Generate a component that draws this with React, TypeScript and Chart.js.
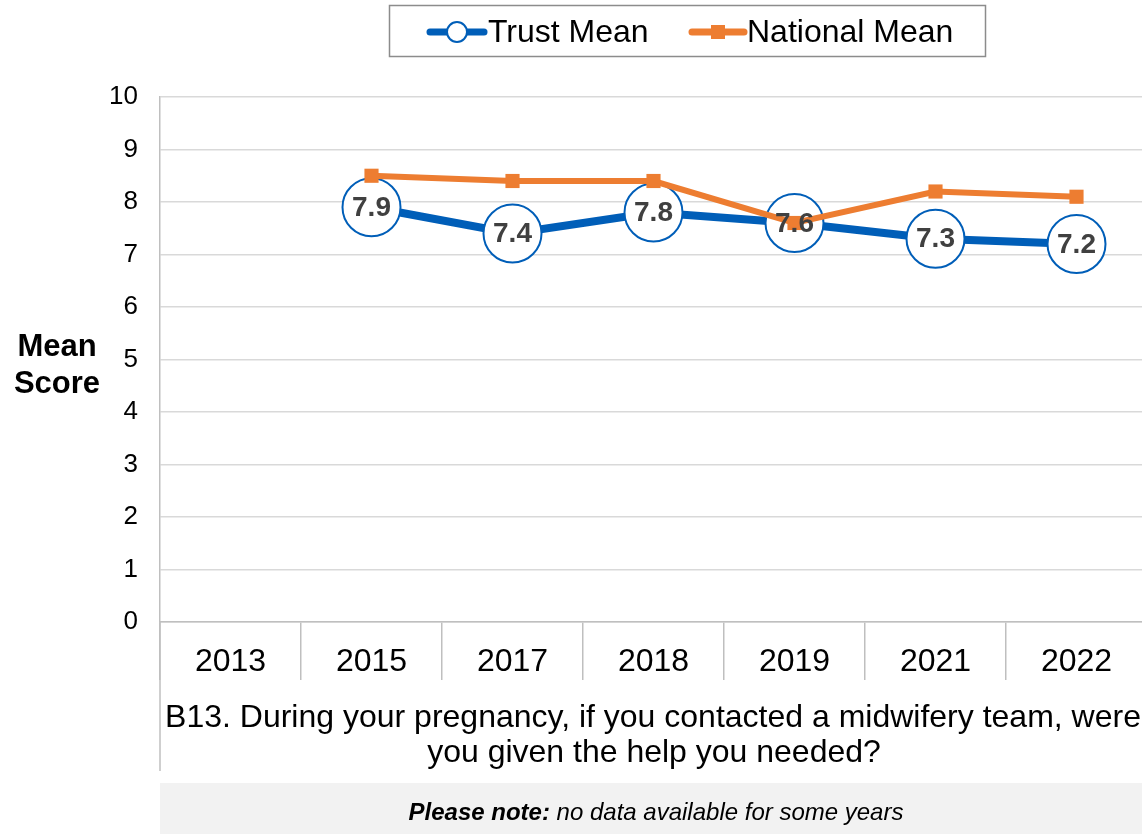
import React, { useEffect, useRef } from "react";
import { Chart, registerables } from "chart.js";

Chart.register(...registerables);

const categories = ["2013", "2015", "2017", "2018", "2019", "2021", "2022"];
const trustMean = [null, 7.9, 7.4, 7.8, 7.6, 7.3, 7.2];
const nationalMean = [null, 8.5, 8.4, 8.4, 7.6, 8.2, 8.1];
const yTicks = [0, 1, 2, 3, 4, 5, 6, 7, 8, 9, 10];
const seriesNames = ["Trust Mean", "National Mean"];
const yTitleLines = ["Mean", "Score"];
const questionLines = [
  "B13. During your pregnancy, if you contacted a midwifery team, were",
  "you given the help you needed?",
];
const noteBold = "Please note:";
const noteRest = " no data available for some years";

const FONT = "'Liberation Sans', Arial, Helvetica, sans-serif";
const BLUE = "#005EB8";
const ORANGE = "#ED7D31";
const AXIS = "#BFBFBF";

export default function App() {
  const ref = useRef<HTMLCanvasElement | null>(null);

  useEffect(() => {
    const canvas = ref.current;
    if (!canvas) return;

    const labelsPlugin = {
      id: "trustLabels",
      afterDatasetsDraw(chart: any) {
        const ctx = chart.ctx;
        const meta = chart.getDatasetMeta(0);
        ctx.save();
        ctx.font = `bold 28px ${FONT}`;
        ctx.fillStyle = "#404040";
        ctx.textAlign = "center";
        ctx.textBaseline = "middle";
        meta.data.forEach((pt: any, i: number) => {
          const v = trustMean[i];
          if (v == null) return;
          ctx.fillText(v.toFixed(1), pt.x, pt.y + 1);
        });
        ctx.restore();
      },
    };

    const decorPlugin = {
      id: "decor",
      afterDraw(chart: any) {
        const ctx = chart.ctx;
        const area = chart.chartArea;
        ctx.save();

        // Legend box
        ctx.strokeStyle = "#8C8C8C";
        ctx.lineWidth = 1.5;
        ctx.strokeRect(389.5, 5.5, 596, 51);
        const ly = 32;
        // Trust symbol
        ctx.lineCap = "round";
        ctx.strokeStyle = BLUE;
        ctx.lineWidth = 7;
        ctx.beginPath();
        ctx.moveTo(430, ly);
        ctx.lineTo(484, ly);
        ctx.stroke();
        ctx.beginPath();
        ctx.arc(457, ly, 10, 0, Math.PI * 2);
        ctx.fillStyle = "#fff";
        ctx.fill();
        ctx.lineWidth = 2;
        ctx.stroke();
        // National symbol
        ctx.strokeStyle = ORANGE;
        ctx.lineWidth = 7;
        ctx.beginPath();
        ctx.moveTo(692, ly);
        ctx.lineTo(744, ly);
        ctx.stroke();
        ctx.fillStyle = ORANGE;
        ctx.fillRect(711, ly - 7, 14, 14);
        ctx.lineCap = "butt";
        // Legend text
        ctx.fillStyle = "#000";
        ctx.font = `32px ${FONT}`;
        ctx.textAlign = "left";
        ctx.textBaseline = "middle";
        ctx.fillText(seriesNames[0], 488, ly + 1);
        ctx.fillText(seriesNames[1], 747, ly + 1);

        // Y title
        ctx.font = `bold 31px ${FONT}`;
        ctx.textAlign = "center";
        ctx.fillText(yTitleLines[0], 57, 347);
        ctx.fillText(yTitleLines[1], 57, 384);

        // Left line extension below axis
        ctx.strokeStyle = AXIS;
        ctx.lineWidth = 1.5;
        ctx.beginPath();
        ctx.moveTo(area.left, area.bottom);
        ctx.lineTo(area.left, 771);
        ctx.stroke();

        // Question text
        ctx.fillStyle = "#000";
        ctx.font = `32px ${FONT}`;
        ctx.textAlign = "center";
        ctx.fillText(questionLines[0], 653, 718);
        ctx.fillText(questionLines[1], 654, 753);

        // Note box
        ctx.fillStyle = "#F2F2F2";
        ctx.fillRect(160, 783, 990, 51);
        ctx.fillStyle = "#000";
        ctx.textAlign = "left";
        const fb = `italic bold 24px ${FONT}`;
        const fr = `italic 24px ${FONT}`;
        ctx.font = fb;
        const wb = ctx.measureText(noteBold).width;
        ctx.font = fr;
        const wr = ctx.measureText(noteRest).width;
        const sx = 656 - (wb + wr) / 2;
        ctx.font = fb;
        ctx.fillText(noteBold, sx, 813);
        ctx.font = fr;
        ctx.fillText(noteRest, sx + wb, 813);

        ctx.restore();
      },
    };

    const chart = new Chart(canvas, {
      type: "line",
      data: {
        labels: categories,
        datasets: [
          {
            label: seriesNames[0],
            data: trustMean,
            borderColor: BLUE,
            backgroundColor: BLUE,
            borderWidth: 8,
            pointRadius: 29,
            pointHoverRadius: 29,
            pointBackgroundColor: "#FFFFFF",
            pointBorderColor: BLUE,
            pointBorderWidth: 2,
            order: 2,
          },
          {
            label: seriesNames[1],
            data: nationalMean,
            borderColor: ORANGE,
            backgroundColor: ORANGE,
            borderWidth: 6,
            pointStyle: "rect",
            pointRadius: 10,
            pointHoverRadius: 10,
            pointBackgroundColor: ORANGE,
            pointBorderColor: ORANGE,
            pointBorderWidth: 0,
            order: 1,
          },
        ],
      },
      options: {
        responsive: false,
        animation: false,
        layout: { autoPadding: false, padding: { top: 97, left: 0, right: 0, bottom: 0 } },
        plugins: {
          legend: { display: false },
          tooltip: { enabled: false },
          title: { display: false },
        },
        scales: {
          x: {
            offset: true,
            grid: {
              offset: true,
              drawOnChartArea: false,
              drawTicks: true,
              tickLength: 58,
              color: AXIS,
              lineWidth: 1.5,
            },
            border: { color: AXIS, width: 1.5 },
            ticks: {
              font: { size: 32, family: FONT },
              color: "#000",
              padding: -37,
              maxRotation: 0,
              autoSkip: false,
            },
            afterFit: (s: any) => {
              s.height = 212;
            },
          },
          y: {
            min: 0,
            max: 10,
            afterBuildTicks: (s: any) => {
              s.ticks = yTicks.map((v) => ({ value: v }));
            },
            grid: { color: "#D9D9D9", lineWidth: 1.5, drawTicks: false },
            border: { color: AXIS, width: 1.5 },
            ticks: {
              font: { size: 26, family: FONT },
              color: "#000",
              padding: 22,
            },
            afterFit: (s: any) => {
              s.width = 160;
            },
          },
        },
      },
      plugins: [labelsPlugin, decorPlugin],
    });

    return () => chart.destroy();
  }, []);

  return (
    <div
      style={{
        position: "absolute",
        left: 0,
        top: 0,
        width: 1142,
        height: 834,
        overflow: "hidden",
        background: "#fff",
      }}
    >
      <canvas ref={ref} width={1147} height={834} style={{ display: "block" }} />
    </div>
  );
}
